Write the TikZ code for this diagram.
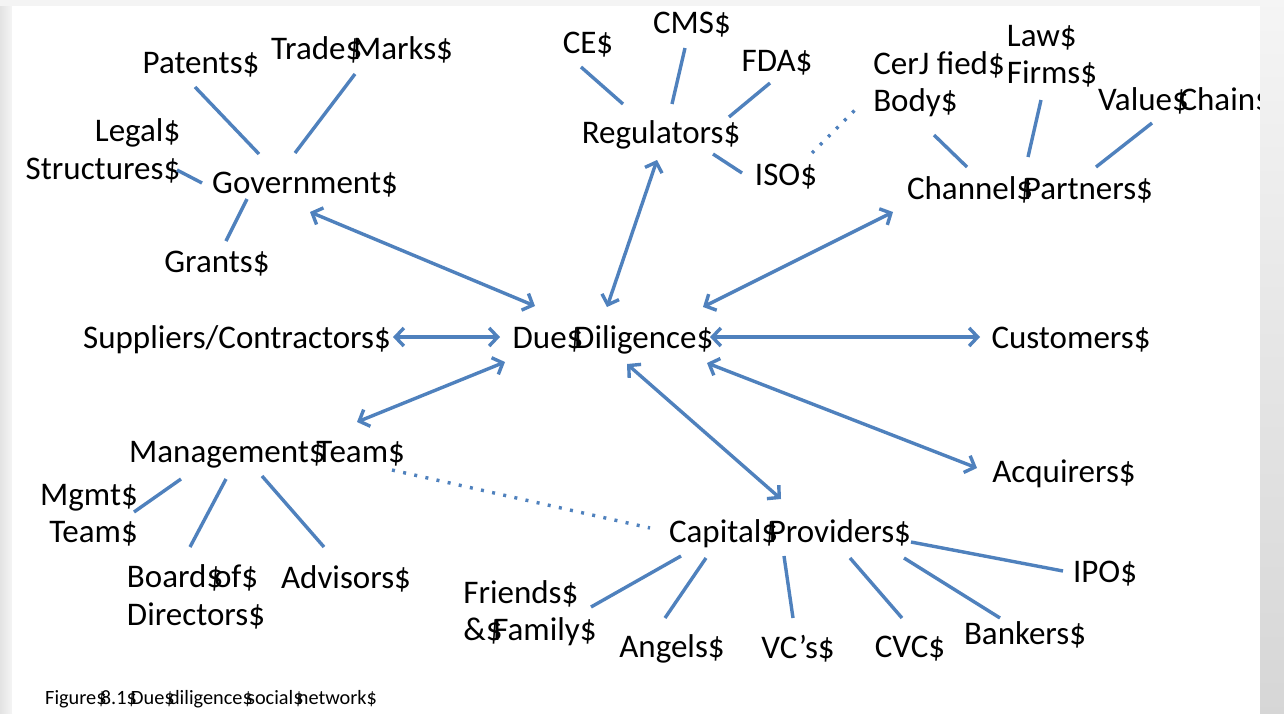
\documentclass[tikz,border=0pt]{standalone}
\usepackage{fontspec}
\setmainfont{Carlito}
\usetikzlibrary{positioning, arrows.meta, calc}

\definecolor{lineBlue}{HTML}{4F81BD}
\newcommand{\dl}{\makebox[0.226em][l]{\$}}

\tikzset{
	lbl/.style={font=\fontsize{33}{37.5}\selectfont, inner sep=0pt},
	spoke/.style={draw=lineBlue, line width=3.4pt},
	link/.style={spoke, {Straight Barb[length=8.5pt,width=18pt]}-{Straight Barb[length=8.5pt,width=18pt]}},
	dots/.style={draw=lineBlue, line width=3.4pt, dash pattern=on 3pt off 8.4pt}
}

\begin{document}
\begin{tikzpicture}[x=1pt,y=-1pt]
		
		%Slide background
		\useasboundingbox (0,0) rectangle (1284,713);
		\fill[gray!9] (0,0) rectangle (1284,713);
		\shade[left color=gray!22, right color=gray!8] (0,6) rectangle (12,713);
		\fill[white] (12,6) rectangle (1260,713);
		
		%Centre of the network
		\node[lbl] (dd) at (613,340) {Due\dl Diligence\$};
		
		%Government side
		\node[lbl] (gov) at (305,185) {Government\$};
		\node[lbl] (pat) at (201,65) {Patents\$};
		\node[lbl] (tm) at (362,50) {Trade\dl Marks\$};
		\node[lbl, align=right] (legal) at (103,151) {Legal\$\\Structures\$};
		\node[lbl] (grants) at (217,264) {Grants\$};
		
		%Regulators
		\node[lbl] (reg) at (661,135) {Regulators\$};
		\node[lbl] (ce) at (588,45) {CE\$};
		\node[lbl] (cms) at (692,25) {CMS\$};
		\node[lbl] (fda) at (777,63) {FDA\$};
		\node[lbl] (iso) at (786,177) {ISO\$};
		
		%Channel partners
		\node[lbl] (cp) at (1030,190) {Channel\dl Partners\$};
		\node[lbl, align=left] (cert) at (939,84) {CerJ fied\$\\Body\$};
		\node[lbl, align=left] (law) at (1052,56) {Law\$\\Firms\$};
		\node[lbl] (value) at (1185,101) {Value\dl Chain\$};
		
		%Middle row
		\node[lbl] (sup) at (237,340) {Suppliers/Contractors\$};
		\node[lbl] (cust) at (1071,340) {Customers\$};
		\node[lbl] (acq) at (1064,474) {Acquirers\$};
		
		%Management team
		\node[lbl] (mgmt) at (267,455) {Management\dl Team\$};
		\node[lbl, align=right] (mteam) at (89,515) {Mgmt\$\\Team\$};
		\node[lbl, align=left] (board) at (196,597) {Board\dl of\$\\Directors\$};
		\node[lbl] (adv) at (346,579) {Advisors\$};
		
		%Capital providers
		\node[lbl] (cap) at (790,534) {Capital\dl Providers\$};
		\node[lbl] (ipo) at (1105,574) {IPO\$};
		\node[lbl, align=left] (friends) at (530,613) {Friends\$\\\&\dl Family\$};
		\node[lbl] (angels) at (672,649) {Angels\$};
		\node[lbl] (vcs) at (798,649) {VC’s\$};
		\node[lbl] (cvc) at (910,649) {CVC\$};
		\node[lbl] (bank) at (1025,635) {Bankers\$};
		
		%Caption
		\node[font=\fontsize{20.3}{24}\selectfont, inner sep=0pt, anchor=west] (caption) at (45,699) {Figure\dl 8.1\dl Due\dl diligence\dl social\dl network\$};
		
		%Spokes of government
		\draw[spoke] ([shift={(-6,22)}]pat.center) -- ([shift={(-46,-31)}]gov.center);
		\draw[spoke] ([shift={(-7,24)}]tm.center) -- ([shift={(-10,-32)}]gov.center);
		\draw[spoke] ([shift={(74,19)}]legal.center) -- ([shift={(-103,-2)}]gov.center);
		\draw[spoke] ([shift={(-58,14)}]gov.center) -- ([shift={(9,-23)}]grants.center);
		
		%Spokes of regulators
		\draw[spoke] ([shift={(-7,22)}]ce.center) -- ([shift={(-38,-31)}]reg.center);
		\draw[spoke] ([shift={(-7,23)}]cms.center) -- ([shift={(11,-31)}]reg.center);
		\draw[spoke] ([shift={(-7,20)}]fda.center) -- ([shift={(68,-18)}]reg.center);
		\draw[spoke] ([shift={(52,19)}]reg.center) -- ([shift={(-44,-4)}]iso.center);
		\draw[dots] ([shift={(26,-24)}]iso.center) -- ([shift={(-84,26)}]cert.center);
		
		%Spokes of channel partners
		\draw[spoke] ([shift={(-5,51)}]cert.center) -- ([shift={(-63,-23)}]cp.center);
		\draw[spoke] ([shift={(-11,44)}]law.center) -- ([shift={(-2,-33)}]cp.center);
		\draw[spoke] ([shift={(-33,22)}]value.center) -- ([shift={(66,-23)}]cp.center);
		
		%Arrows to due diligence
		\draw[link] ([shift={(5,27)}]gov.center) -- ([shift={(-78,-34)}]dd.center);
		\draw[link] ([shift={(-4,25)}]reg.center) -- ([shift={(-6,-33)}]dd.center);
		\draw[link] ([shift={(-137,22)}]cp.center) -- ([shift={(90,-33)}]dd.center);
		\draw[link] ([shift={(156,-3)}]sup.center) -- ([shift={(-113,-3)}]dd.center);
		\draw[link] ([shift={(97,-3)}]dd.center) -- ([shift={(-91,-3)}]cust.center);
		\draw[link] ([shift={(-108,22)}]dd.center) -- ([shift={(90,-33)}]mgmt.center);
		\draw[link] ([shift={(94,23)}]dd.center) -- ([shift={(-87,-6)}]acq.center);
		\draw[link] ([shift={(14,24)}]dd.center) -- ([shift={(-9,-35)}]cap.center);
		
		%Spokes of management team
		\draw[spoke] ([shift={(-86,24)}]mgmt.center) -- ([shift={(45,-3)}]mteam.center);
		\draw[spoke] ([shift={(-41,24)}]mgmt.center) -- ([shift={(-6,-50)}]board.center);
		\draw[spoke] ([shift={(-5,21)}]mgmt.center) -- ([shift={(-22,-32)}]adv.center);
		\draw[dots] ([shift={(125,15)}]mgmt.center) -- ([shift={(-140,-6)}]cap.center);
		
		%Spokes of capital providers
		\draw[spoke] ([shift={(121,8)}]cap.center) -- ([shift={(-42,-3)}]ipo.center);
		\draw[spoke] ([shift={(-109,22)}]cap.center) -- ([shift={(61,-6)}]friends.center);
		\draw[spoke] ([shift={(-84,24)}]cap.center) -- ([shift={(-7,-31)}]angels.center);
		\draw[spoke] ([shift={(-6,22)}]cap.center) -- ([shift={(-5,-31)}]vcs.center);
		\draw[spoke] ([shift={(60,24)}]cap.center) -- ([shift={(-8,-31)}]cvc.center);
		\draw[spoke] ([shift={(114,24)}]cap.center) -- ([shift={(-25,-17)}]bank.center);
		
		%Right edge of the slide
		\shade[top color=gray!8, bottom color=gray!32] (1260,0) rectangle (1284,713);
		
\end{tikzpicture}
\end{document}
